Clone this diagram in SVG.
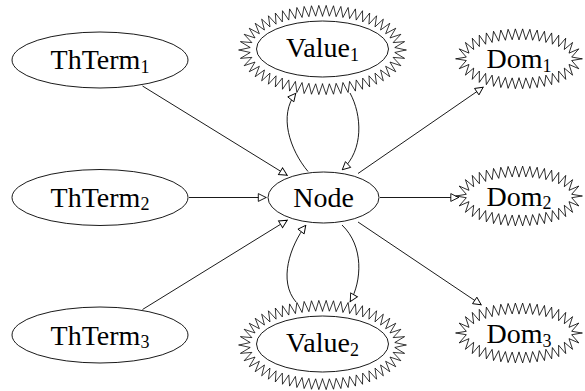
<svg xmlns="http://www.w3.org/2000/svg" xmlns:xlink="http://www.w3.org/1999/xlink" width="585" height="391" viewBox="0 0 585 391">
<style>
  .shape { fill: none; stroke: #000; stroke-width: 0.9; }
  .zz { fill: none; stroke: #000; stroke-width: 0.8; stroke-linejoin: miter; stroke-linecap: round; }
  .lbl { font-family: "Liberation Serif", "Times New Roman", serif; font-size: 28px; text-anchor: middle; fill: #000; }
  .sub { font-size: 18px; }
  .edge { fill: none; stroke: #000; stroke-width: 0.9; marker-end: url(#arr); }
</style>
<defs>
  <marker id="arr" viewBox="-9 -5 10 10" refX="0" refY="0" markerWidth="10" markerHeight="10" markerUnits="userSpaceOnUse" orient="auto" overflow="visible">
    <path d="M-0.4,0 L-8.2,-3.9 L-8.2,3.9 Z" fill="#fff" stroke="#000" stroke-width="0.9" stroke-linejoin="miter"/>
  </marker>
  <path id="zq" class="zz" d="M63,0 L52.69,-1.62 L59.80,-9.28 L50.01,-5.30 L53.57,-15.27 L45.30,-8.70 L46.72,-19.23 L39.61,-11.44 L39.74,-22.07 L33.38,-13.61 L32.65,-24.18 L26.89,-15.27 L25.46,-25.76 L20.28,-16.49 L18.19,-26.88 L13.59,-17.34 L10.90,-27.60 L6.80,-17.84 L3.65,-27.96 L0,-18"/>
  <g id="domzz">
    <use href="#zq"/>
    <use href="#zq" transform="scale(-1,1)"/>
    <use href="#zq" transform="scale(1,-1)"/>
    <use href="#zq" transform="scale(-1,-1)"/>
  </g>
  <path id="vq" class="zz" d="M83.5,0 L72.29,-2.56 L82.08,-8.63 L70.62,-7.63 L78.36,-16.19 L67.47,-12.43 L73.25,-22.42 L63.14,-16.80 L67.31,-27.54 L58.06,-20.59 L60.83,-31.80 L52.49,-23.83 L54.09,-35.28 L46.43,-26.62 L47.20,-38.13 L40.18,-28.94 L40.02,-40.51 L33.73,-30.84 L32.92,-42.37 L27.09,-32.37 L25.64,-43.83 L20.43,-33.53 L18.37,-44.90 L13.62,-34.35 L11.02,-45.61 L6.84,-34.84 L3.68,-45.96 L0,-35"/>
  <g id="valzz">
    <use href="#vq"/>
    <use href="#vq" transform="scale(-1,1)"/>
    <use href="#vq" transform="scale(1,-1)"/>
    <use href="#vq" transform="scale(-1,-1)"/>
  </g>
</defs>
<rect width="585" height="391" fill="#fff"/>

<g id="edges">
  <path class="edge" d="M142.5,86 L287.5,175.5"/>
  <path class="edge" d="M189,197.5 L266.5,197.5"/>
  <path class="edge" d="M142.5,309.5 L287.5,220"/>
  <path class="edge" d="M358,173.5 L483.5,87"/>
  <path class="edge" d="M380,197.5 L459,197.5"/>
  <path class="edge" d="M358,222 L481.5,305"/>
  <path class="edge" d="M308,171.5 C290,150 278,115 296,93"/>
  <path class="edge" d="M350,93 C362,115 364,150 342,170"/>
  <path class="edge" d="M296,302 C278,281 290,246 306,225"/>
  <path class="edge" d="M342,225 C364,246 362,281 350,302"/>
</g>

<g id="thterm1">
  <ellipse class="shape" cx="100" cy="60" rx="88" ry="28"/>
  <text class="lbl" x="100" y="69.3">ThTerm<tspan class="sub" dy="3.5">1</tspan></text>
</g>
<g id="thterm2">
  <ellipse class="shape" cx="100" cy="197.5" rx="88" ry="28"/>
  <text class="lbl" x="100" y="206.7">ThTerm<tspan class="sub" dy="3.5">2</tspan></text>
</g>
<g id="thterm3">
  <ellipse class="shape" cx="100" cy="335" rx="88" ry="28"/>
  <text class="lbl" x="100" y="344.5">ThTerm<tspan class="sub" dy="3.5">3</tspan></text>
</g>

<g id="node">
  <ellipse class="shape" cx="323.5" cy="197.5" rx="55.5" ry="25.5"/>
  <text class="lbl" x="323.5" y="206.5">Node</text>
</g>

<g id="value1">
  <use href="#valzz" transform="translate(322.5,50) scale(1,0.97)"/>
  <ellipse class="shape" cx="322.5" cy="49" rx="66" ry="28"/>
  <text class="lbl" x="322.5" y="57">Value<tspan class="sub" dy="3.5">1</tspan></text>
</g>
<g id="value2">
  <use href="#valzz" transform="translate(322.5,345) scale(1,0.97)"/>
  <ellipse class="shape" cx="322.5" cy="344" rx="66" ry="28"/>
  <text class="lbl" x="322.5" y="352">Value<tspan class="sub" dy="3.5">2</tspan></text>
</g>

<g id="dom1">
  <use href="#domzz" transform="translate(519,58.8) scale(1,1.07)"/>
  <text class="lbl" x="519" y="68.3">Dom<tspan class="sub" dy="3.5">1</tspan></text>
</g>
<g id="dom2">
  <use href="#domzz" transform="translate(519,196) scale(1,1.07)"/>
  <text class="lbl" x="519" y="205.8">Dom<tspan class="sub" dy="3.5">2</tspan></text>
</g>
<g id="dom3">
  <use href="#domzz" transform="translate(519,333) scale(1,1.07)"/>
  <text class="lbl" x="519" y="343">Dom<tspan class="sub" dy="3.5">3</tspan></text>
</g>
</svg>
